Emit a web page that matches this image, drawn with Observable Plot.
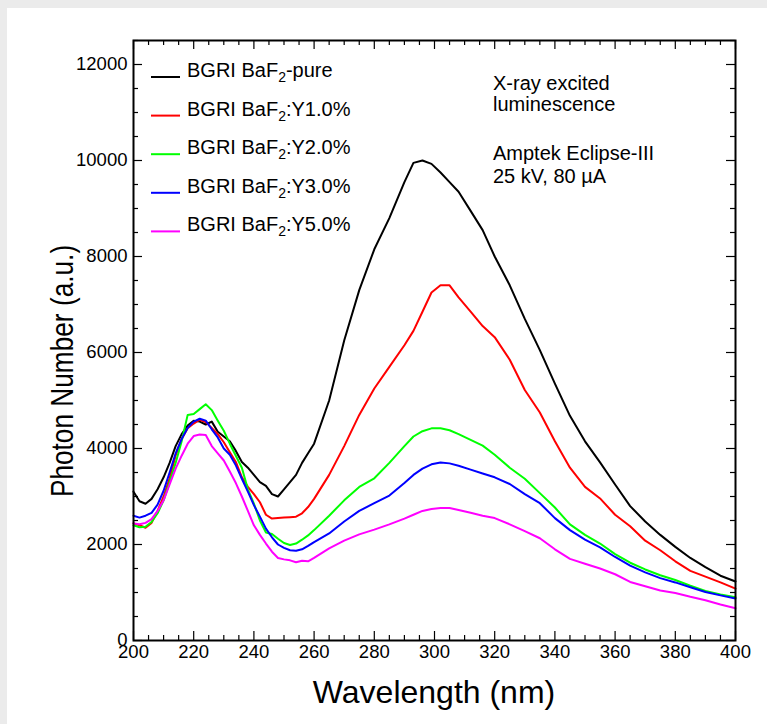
<!DOCTYPE html>
<html><head><meta charset="utf-8">
<script src="https://cdn.jsdelivr.net/npm/d3@7"></script>
<script src="https://cdn.jsdelivr.net/npm/@observablehq/plot@0.6"></script>
<style>
html,body{margin:0;padding:0;background:#ebebeb;}
#panel{position:absolute;left:7px;top:8px;width:760px;height:716px;background:#fff;overflow:hidden}
</style></head><body><div id="panel"></div>
<script>
const wavelengths = [200,202,204,206,208,210,212,214,216,218,220,222,224,226,228,230,232,234,236,238,240,242,244,246,248,250,252,254,256,258,260,265,270,275,280,285,290,293,296,299,302,305,308,312,316,320,325,330,335,340,345,350,355,360,365,370,375,380,385,390,395,400];
const pure = [3100,2900,2850,2950,3150,3400,3700,4050,4300,4480,4580,4560,4500,4560,4350,4250,4150,3950,3720,3600,3450,3300,3220,3050,3000,3150,3300,3450,3700,3900,4100,5000,6250,7300,8150,8800,9550,9950,10000,9930,9750,9550,9350,8950,8550,8000,7400,6700,6050,5350,4680,4150,3710,3250,2800,2480,2200,1950,1720,1530,1350,1230];
const y10 = [2440,2400,2350,2450,2700,3000,3380,3850,4200,4420,4520,4600,4550,4430,4300,4130,3920,3720,3400,3200,3050,2880,2620,2540,2550,2560,2570,2580,2650,2780,2950,3450,4050,4700,5250,5700,6150,6450,6850,7250,7400,7400,7150,6850,6550,6320,5850,5220,4750,4150,3600,3200,2960,2620,2380,2080,1880,1650,1450,1330,1210,1080];
const y20 = [2400,2360,2370,2470,2650,2920,3300,3700,4150,4700,4720,4820,4920,4800,4580,4370,4100,3850,3600,3150,2850,2500,2250,2220,2120,2030,1990,2020,2100,2190,2300,2600,2920,3200,3380,3700,4050,4250,4360,4420,4420,4380,4300,4180,4060,3870,3600,3370,3070,2770,2420,2200,2020,1800,1620,1480,1360,1260,1140,1030,960,900];
const y30 = [2600,2560,2600,2660,2830,3120,3500,3900,4200,4430,4560,4620,4580,4400,4230,4000,3870,3650,3370,3100,2820,2580,2330,2150,2000,1930,1880,1870,1900,1970,2050,2230,2480,2700,2860,3020,3280,3450,3580,3670,3710,3690,3640,3560,3480,3400,3260,3050,2860,2550,2300,2100,1940,1740,1560,1420,1300,1210,1110,1010,940,875];
const y50 = [2440,2420,2450,2530,2700,2920,3250,3580,3850,4100,4260,4290,4280,4050,3900,3750,3520,3280,3000,2700,2400,2200,2020,1850,1720,1690,1670,1630,1660,1650,1720,1920,2080,2210,2310,2420,2540,2620,2700,2740,2760,2760,2720,2660,2600,2550,2420,2280,2130,1900,1700,1600,1500,1380,1220,1130,1040,990,910,840,750,670];

const seriesNames = ["pure","Y1.0%","Y2.0%","Y3.0%","Y5.0%"];
const seriesValues = [pure, y10, y20, y30, y50];
const seriesColors = ["#000000","#ff0000","#00ff00","#0000ff","#ff00ff"];
const legendLabels = [["BGRI BaF","2","-pure"],["BGRI BaF","2",":Y1.0%"],["BGRI BaF","2",":Y2.0%"],["BGRI BaF","2",":Y3.0%"],["BGRI BaF","2",":Y5.0%"]];
const xTicks = [200,220,240,260,280,300,320,340,360,380,400];
const yTicks = [0,2000,4000,6000,8000,10000,12000];
const xMinor = d3.range(200, 401, 5);
const yMinor = d3.range(0, 12501, 500);
const annotationLines = ["X-ray excited","luminescence","","Amptek Eclipse-III","25 kV, 80 \u00b5A"];
const xTitle = "Wavelength (nm)";
const yTitle = "Photon Number (a.u.)";

const rows = [];
seriesValues.forEach((vals, i) => vals.forEach((v, j) => rows.push({w: wavelengths[j], v, s: seriesNames[i]})));

const W = 760, H = 716, ml = 126, mr = 32, mt = 32, mb = 84;
const pw = W - ml - mr, ph = H - mt - mb;
const font = "'Liberation Sans', Arial, Helvetica, sans-serif";

const chart = Plot.plot({
  width: W, height: H,
  marginLeft: ml, marginRight: mr, marginTop: mt, marginBottom: mb,
  style: {fontFamily: font, fontSize: "18.5px", color: "#000", background: "#fff", overflow: "visible"},
  x: {domain: [200, 400]},
  y: {domain: [0, 12500]},
  color: {domain: seriesNames, range: seriesColors},
  marks: [
    Plot.line(rows, {x: "w", y: "v", z: "s", stroke: "s", strokeWidth: 2, curve: "linear"}),
    Plot.tickX(xMinor.filter(d => d % 20 !== 0), {x: d => d, insetTop: ph - 5, stroke: "#000", strokeWidth: 1.2}),
    Plot.tickX(xMinor.filter(d => d % 20 !== 0), {x: d => d, insetBottom: ph - 5, stroke: "#000", strokeWidth: 1.2}),
    Plot.tickX(xTicks, {x: d => d, insetTop: ph - 9, stroke: "#000", strokeWidth: 1.2}),
    Plot.tickX(xTicks, {x: d => d, insetBottom: ph - 9, stroke: "#000", strokeWidth: 1.2}),
    Plot.tickY(yMinor.filter(d => d % 2000 !== 0), {y: d => d, insetRight: pw - 5, stroke: "#000", strokeWidth: 1.2}),
    Plot.tickY(yMinor.filter(d => d % 2000 !== 0), {y: d => d, insetLeft: pw - 5, stroke: "#000", strokeWidth: 1.2}),
    Plot.tickY(yTicks, {y: d => d, insetRight: pw - 9, stroke: "#000", strokeWidth: 1.2}),
    Plot.tickY(yTicks, {y: d => d, insetLeft: pw - 9, stroke: "#000", strokeWidth: 1.2}),
    Plot.axisX({ticks: xTicks, tickSize: 0, tickPadding: 4, label: null, tickFormat: d => String(d), fontSize: 18.5}),
    Plot.axisY({ticks: yTicks, tickSize: 0, tickPadding: 6, label: null, tickFormat: d => String(d), fontSize: 18.5}),
    Plot.frame({stroke: "#000", strokeWidth: 2})
  ]
});
document.getElementById("panel").appendChild(chart);

const svg = d3.select(chart);
// axis titles
svg.append("text").attr("x", 427).attr("y", 695).attr("text-anchor", "middle")
  .attr("font-family", font).attr("font-size", 32).attr("fill", "#000").text(xTitle);
svg.append("text").attr("transform", "translate(66,363) rotate(-90) scale(0.82,1)").attr("text-anchor", "middle")
  .attr("font-family", font).attr("font-size", 32).attr("fill", "#000").text(yTitle);

// legend
const lg = svg.append("g").attr("text-anchor", "start");
legendLabels.forEach((lab, i) => {
  const by = 69 + i * 38.6;
  lg.append("line").attr("x1", 144).attr("x2", 173).attr("y1", by).attr("y2", by)
    .attr("stroke", seriesColors[i]).attr("stroke-width", 2);
  const t = lg.append("text").attr("x", 180).attr("y", by).attr("font-family", font)
    .attr("font-size", 20).attr("fill", "#000").attr("text-anchor", "start");
  t.append("tspan").text(lab[0]);
  t.append("tspan").attr("font-size", 14).attr("dy", 5).text(lab[1]);
  t.append("tspan").attr("dy", -5).text(lab[2]);
});

// annotation
const ann = svg.append("g").attr("text-anchor", "start");
const annY = [82, 103, 0, 152, 175];
annotationLines.forEach((s, i) => {
  if (!s) return;
  ann.append("text").attr("x", 486).attr("y", annY[i]).attr("font-family", font)
    .attr("font-size", 20).attr("fill", "#000").attr("text-anchor", "start").text(s);
});
</script></body></html>
